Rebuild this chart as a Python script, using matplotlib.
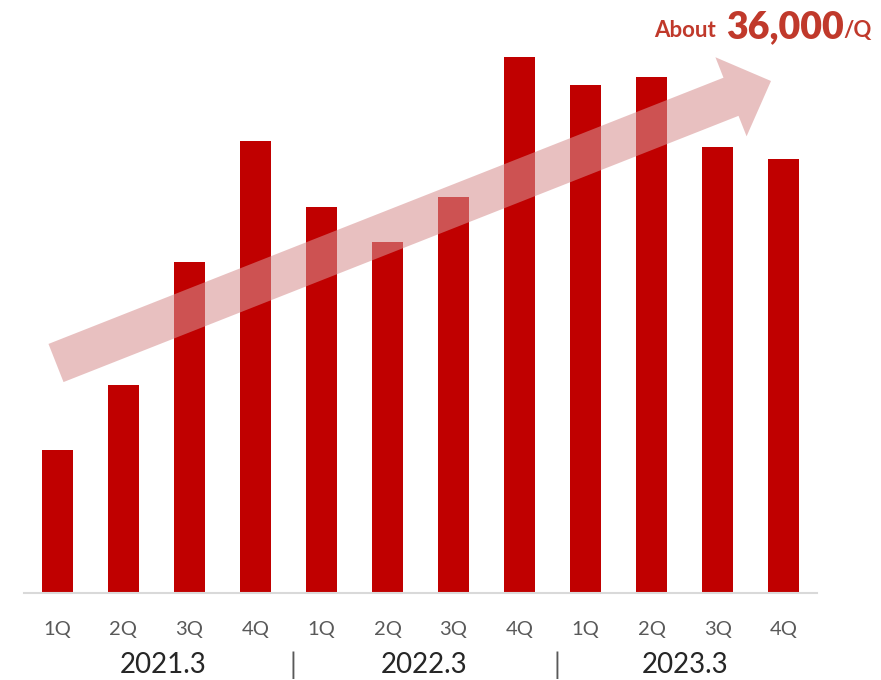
import matplotlib.pyplot as plt
from matplotlib.patches import FancyArrow

# Quarterly values
quarters = ['1Q', '2Q', '3Q', '4Q'] * 3
values = [10800, 15700, 25000, 34200, 29200, 26500, 29900, 40500, 38400, 39000, 33700, 32800]
years = ['2021.3', '2022.3', '2023.3']

plt.rcParams['font.family'] = ['Lato', 'DejaVu Sans']

fig = plt.figure(figsize=(8.81, 6.80), dpi=100)
W, H = 881, 680

# Main bar axes: pixel box left 24, right 817, top 40, bottom 593
ax = fig.add_axes([24 / W, 1 - 593 / H, (817 - 24) / W, (593 - 40) / H])
x = range(len(values))
ax.bar(x, values, width=0.47, color='#C00000', zorder=2)
ax.set_xlim(-0.5, len(values) - 0.5)
ax.set_ylim(0, 41800)
ax.set_yticks([])
ax.set_xticks(list(x))
ax.set_xticklabels(quarters, fontsize=14.5, color='#595959')
ax.tick_params(axis='x', length=0, pad=20)
for s in ['left', 'right', 'top']:
    ax.spines[s].set_visible(False)
ax.spines['bottom'].set_color('#D9D9D9')
ax.spines['bottom'].set_linewidth(1.5)

# Year group labels and separators
year_pos = [1.6, 5.55, 9.5]
for xp, yr in zip(year_pos, years):
    ax.text(xp, -0.13, yr, transform=ax.get_xaxis_transform(), ha='center', va='center',
            fontsize=20, color='#262626')
for xp in [3.5, 7.5]:
    ax.text(xp + 0.07, -0.13, '|', transform=ax.get_xaxis_transform(), ha='center', va='center',
            fontsize=20, color='#595959')

# Overlay axes in pixel coordinates for the trend arrow and note
ov = fig.add_axes([0, 0, 1, 1], zorder=3)
ov.set_xlim(0, W)
ov.set_ylim(H, 0)
ov.axis('off')
ov.patch.set_alpha(0)

arrow = FancyArrow(56, 363, 715, -282, width=41, head_width=85, head_length=43,
                   length_includes_head=True, color='#D79191', alpha=0.57, lw=0)
ov.add_patch(arrow)

red = '#C0392B'
ov.text(654, 37, 'About', fontsize=16, fontweight='bold', color=red, va='baseline', ha='left')
ov.text(726, 38, '36,000', fontsize=27, fontweight='heavy', color=red, va='baseline', ha='left')
ov.text(843, 37, '/Q', fontsize=16, fontweight='bold', color=red, va='baseline', ha='left')

fig.savefig('out.png', dpi=100)
